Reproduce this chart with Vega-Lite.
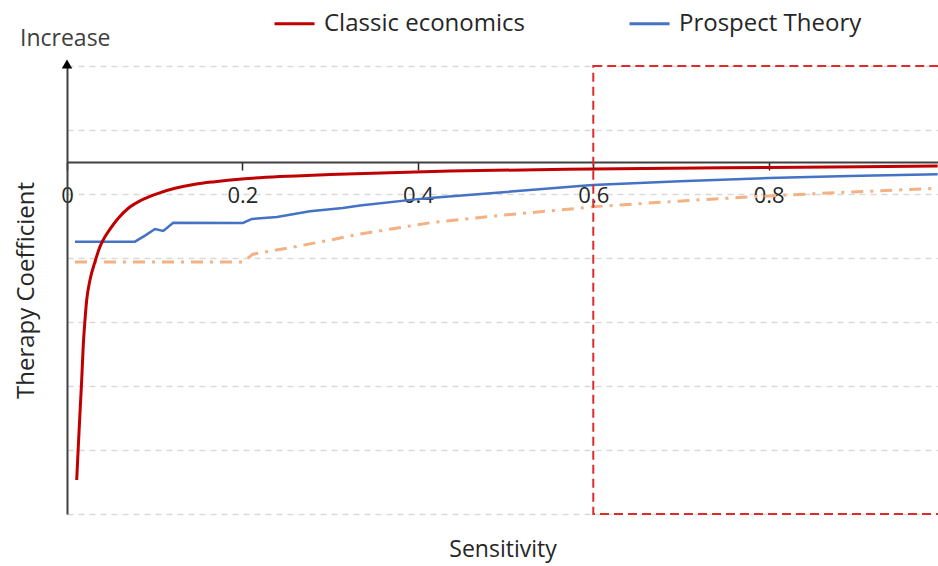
{
  "$schema": "https://vega.github.io/schema/vega-lite/v6.json",
  "width": 871,
  "height": 448,
  "autosize": {"type": "none"},
  "padding": {"left": 67, "top": 66, "right": 0, "bottom": 52},
  "config": {"font": "Open Sans", "view": {"stroke": null}},
  "datasets": {"curves": [
    {"series": "Classic economics", "sensitivity": 0.01105, "coefficient": -4.969},
    {"series": "Classic economics", "sensitivity": 0.01288, "coefficient": -4.448},
    {"series": "Classic economics", "sensitivity": 0.01481, "coefficient": -3.922},
    {"series": "Classic economics", "sensitivity": 0.01675, "coefficient": -3.406},
    {"series": "Classic economics", "sensitivity": 0.01858, "coefficient": -2.855},
    {"series": "Classic economics", "sensitivity": 0.02051, "coefficient": -2.469},
    {"series": "Classic economics", "sensitivity": 0.02245, "coefficient": -2.156},
    {"series": "Classic economics", "sensitivity": 0.02621, "coefficient": -1.844},
    {"series": "Classic economics", "sensitivity": 0.03191, "coefficient": -1.558},
    {"series": "Classic economics", "sensitivity": 0.03761, "coefficient": -1.323},
    {"series": "Classic economics", "sensitivity": 0.0433, "coefficient": -1.167},
    {"series": "Classic economics", "sensitivity": 0.04707, "coefficient": -1.089},
    {"series": "Classic economics", "sensitivity": 0.05846, "coefficient": -0.88},
    {"series": "Classic economics", "sensitivity": 0.06986, "coefficient": -0.723},
    {"series": "Classic economics", "sensitivity": 0.08513, "coefficient": -0.594},
    {"series": "Classic economics", "sensitivity": 0.104, "coefficient": -0.489},
    {"series": "Classic economics", "sensitivity": 0.1231, "coefficient": -0.411},
    {"series": "Classic economics", "sensitivity": 0.1459, "coefficient": -0.348},
    {"series": "Classic economics", "sensitivity": 0.1687, "coefficient": -0.308},
    {"series": "Classic economics", "sensitivity": 0.1994, "coefficient": -0.266},
    {"series": "Classic economics", "sensitivity": 0.2427, "coefficient": -0.227},
    {"series": "Classic economics", "sensitivity": 0.2997, "coefficient": -0.195},
    {"series": "Classic economics", "sensitivity": 0.4365, "coefficient": -0.141},
    {"series": "Classic economics", "sensitivity": 0.5994, "coefficient": -0.109},
    {"series": "Classic economics", "sensitivity": 0.8, "coefficient": -0.086},
    {"series": "Classic economics", "sensitivity": 0.9926, "coefficient": -0.0625},
    {"series": "Prospect Theory", "sensitivity": 0.0091, "coefficient": -1.245},
    {"series": "Prospect Theory", "sensitivity": 0.0775, "coefficient": -1.245},
    {"series": "Prospect Theory", "sensitivity": 0.0889, "coefficient": -1.15},
    {"series": "Prospect Theory", "sensitivity": 0.1003, "coefficient": -1.047},
    {"series": "Prospect Theory", "sensitivity": 0.1097, "coefficient": -1.078},
    {"series": "Prospect Theory", "sensitivity": 0.1211, "coefficient": -0.948},
    {"series": "Prospect Theory", "sensitivity": 0.2006, "coefficient": -0.953},
    {"series": "Prospect Theory", "sensitivity": 0.2108, "coefficient": -0.89},
    {"series": "Prospect Theory", "sensitivity": 0.2393, "coefficient": -0.86},
    {"series": "Prospect Theory", "sensitivity": 0.277, "coefficient": -0.77},
    {"series": "Prospect Theory", "sensitivity": 0.3145, "coefficient": -0.72},
    {"series": "Prospect Theory", "sensitivity": 0.334, "coefficient": -0.68},
    {"series": "Prospect Theory", "sensitivity": 0.4, "coefficient": -0.58},
    {"series": "Prospect Theory", "sensitivity": 0.4137, "coefficient": -0.5625},
    {"series": "Prospect Theory", "sensitivity": 0.49, "coefficient": -0.48},
    {"series": "Prospect Theory", "sensitivity": 0.5846, "coefficient": -0.375},
    {"series": "Prospect Theory", "sensitivity": 0.5994, "coefficient": -0.36},
    {"series": "Prospect Theory", "sensitivity": 0.6986, "coefficient": -0.3},
    {"series": "Prospect Theory", "sensitivity": 0.8, "coefficient": -0.25},
    {"series": "Prospect Theory", "sensitivity": 0.892, "coefficient": -0.22},
    {"series": "Prospect Theory", "sensitivity": 0.9926, "coefficient": -0.19},
    {"series": "Reference", "sensitivity": 0.0091, "coefficient": -1.5625},
    {"series": "Reference", "sensitivity": 0.2006, "coefficient": -1.5625},
    {"series": "Reference", "sensitivity": 0.212, "coefficient": -1.44},
    {"series": "Reference", "sensitivity": 0.2576, "coefficient": -1.33},
    {"series": "Reference", "sensitivity": 0.2997, "coefficient": -1.22},
    {"series": "Reference", "sensitivity": 0.334, "coefficient": -1.125},
    {"series": "Reference", "sensitivity": 0.4137, "coefficient": -0.95},
    {"series": "Reference", "sensitivity": 0.49, "coefficient": -0.84},
    {"series": "Reference", "sensitivity": 0.5846, "coefficient": -0.72},
    {"series": "Reference", "sensitivity": 0.599, "coefficient": -0.7},
    {"series": "Reference", "sensitivity": 0.7214, "coefficient": -0.59},
    {"series": "Reference", "sensitivity": 0.8, "coefficient": -0.53},
    {"series": "Reference", "sensitivity": 0.892, "coefficient": -0.47},
    {"series": "Reference", "sensitivity": 0.9926, "coefficient": -0.41}
  ]},
  "layer": [
    {
      "data": {"name": "curves"},
      "transform": [{"filter": "datum.series === 'Reference'"}],
      "mark": {"type": "line", "color": "#F4B183", "strokeWidth": 3, "strokeDash": [12, 7, 3, 7]},
      "encoding": {
        "x": {"field": "sensitivity", "type": "quantitative",
          "scale": {"domain": [0, 0.993], "nice": false},
          "axis": {"values": [0, 0.2, 0.4, 0.6, 0.8], "format": "~g", "offset": -352, "grid": false,
            "domainColor": "#404040", "domainWidth": 2, "tickColor": "#262626", "tickWidth": 1.5, "tickSize": 8,
            "labelFontSize": 22, "labelColor": "#262626", "labelPadding": 15, "labelFlush": false,
            "title": "Sensitivity", "titleFontSize": 23, "titleFontWeight": "normal", "titleColor": "#262626",
            "titleBaseline": "middle", "titleY": 387}},
        "y": {"field": "coefficient", "type": "quantitative",
          "scale": {"domain": [-5.5, 1.5], "nice": false, "zero": false},
          "axis": {"values": [1.5, 0.5, -0.5, -1.5, -2.5, -3.5, -4.5, -5.5], "labels": false, "ticks": false,
            "domainColor": "#404040", "domainWidth": 2,
            "gridColor": "#D9D9D9", "gridDash": [6, 5], "gridWidth": 1.5,
            "title": "Therapy Coefficient", "titleFontSize": 24, "titleFontWeight": "normal", "titleColor": "#262626", "titlePadding": 29}}
      }
    },
    {
      "data": {"name": "curves"},
      "transform": [{"filter": "datum.series === 'Prospect Theory'"}],
      "mark": {"type": "line", "strokeWidth": 2.5},
      "encoding": {
        "x": {"field": "sensitivity", "type": "quantitative"},
        "y": {"field": "coefficient", "type": "quantitative"},
        "color": {"field": "series", "type": "nominal",
          "scale": {"domain": ["Classic economics", "Prospect Theory"], "range": ["#C00000", "#4472C4"]},
          "legend": {"orient": "none", "legendX": 206, "legendY": -64, "direction": "horizontal", "title": null,
            "symbolType": "stroke", "symbolSize": 1600, "symbolStrokeWidth": 3, "labelFontSize": 24, "labelColor": "#262626",
            "labelOffset": 8, "labelLimit": 400, "columnPadding": 98}}}
    },
    {
      "data": {"name": "curves"},
      "transform": [{"filter": "datum.series === 'Classic economics'"}],
      "mark": {"type": "line", "strokeWidth": 3, "interpolate": "monotone"},
      "encoding": {
        "x": {"field": "sensitivity", "type": "quantitative"},
        "y": {"field": "coefficient", "type": "quantitative"},
        "color": {"field": "series", "type": "nominal"}}
    },
    {
      "data": {"values": [{"box": "highlight"}]},
      "mark": {"type": "rect", "filled": false, "stroke": "#DD2C2C", "strokeWidth": 2, "strokeDash": [9, 5]},
      "encoding": {"x": {"datum": 0.6}, "x2": {"datum": 1.0}, "y": {"datum": 1.5}, "y2": {"datum": -5.5}}
    },
    {
      "data": {"values": [{"marker": "arrow"}]},
      "mark": {"type": "point", "shape": "triangle-up", "filled": true, "color": "#000000", "size": 110, "opacity": 1},
      "encoding": {"x": {"datum": 0}, "y": {"datum": 1.53}}
    },
    {
      "data": {"values": [{"label": "Increase"}]},
      "mark": {"type": "text", "align": "left", "baseline": "middle", "dx": -47, "fontSize": 23, "color": "#404040"},
      "encoding": {"text": {"field": "label"}, "x": {"datum": 0}, "y": {"datum": 1.92}}
    }
  ]
}
